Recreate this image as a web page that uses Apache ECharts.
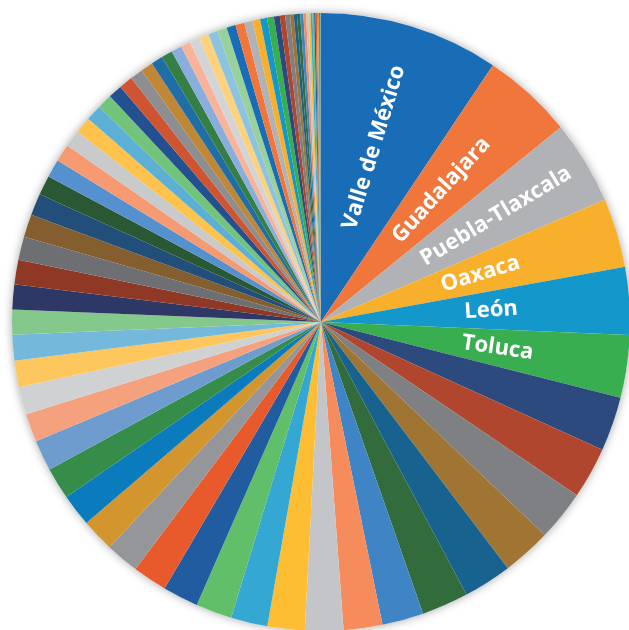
<!DOCTYPE html>
<html>
<head>
<meta charset="utf-8">
<script src="https://cdn.jsdelivr.net/npm/echarts@6/dist/echarts.min.js"></script>
<style>
html,body{margin:0;padding:0;background:#fff;}
#chart{width:629px;height:630px;}
</style>
</head>
<body>
<div id="chart"></div>
<script>
// Labeled regions (first six slices)
const cities = ['Valle de México', 'Guadalajara', 'Puebla-Tlaxcala', 'Oaxaca', 'León', 'Toluca'];

// Slice values (in the drawn order, clockwise from 12 o'clock)
const values = [
  33.8, 17.1, 15.8, 13.0, 12.7, 11.8,
  10.2, 9.7, 9.5, 9.2, 9.1, 8.8, 7.8, 7.3,
  7.2, 7.0, 6.9, 6.8, 6.7, 6.5, 6.3, 6.2, 6.1, 6.0,
  5.8, 5.3, 5.2, 5.0, 4.8, 4.7, 4.7, 4.6, 4.4, 4.3, 4.1,
  3.7, 3.4, 3.3, 3.2, 3.1, 3.0,
  2.8, 2.6, 2.6, 2.4, 2.3, 2.2, 2.1, 2.0, 1.8,
  1.9, 1.8, 1.8, 1.8, 1.7, 1.7, 1.6,
  1.4, 1.3, 1.3, 1.1, 1.0, 0.9, 0.7, 0.6, 0.6, 0.6, 0.5,
  0.45, 0.4, 0.35, 0.3, 0.28, 0.25, 0.2, 0.18, 0.15, 0.12, 0.1
];

// Slice colour cycle
const palette = [
  '#186db6', '#f1763b', '#b1b2b5', '#f8af2b', '#1497cb', '#38ae50',
  '#2d4a7e', '#b0462d', '#7f8083', '#a07533', '#17628f', '#326b3c', '#3f84c5', '#f68b5b',
  '#c4c5c8', '#fdbe34', '#35a7d3', '#61bf6a', '#215ba0', '#e8592c', '#95969a', '#d3952e',
  '#0a7bbd', '#368d49', '#6e9ccf', '#f5a17e', '#cfd1d3', '#fec75d', '#74b8db', '#84c98b',
  '#2e3866', '#8f3826', '#6e6f72', '#855e2f', '#224f79', '#2b5834', '#5590cf', '#f59a71',
  '#c9cacc', '#fdc34c', '#5cb0d6', '#72c47b', '#23508f', '#cf5431', '#8d8e91', '#c08736',
  '#1f6fa6', '#357e45', '#89addc', '#f8b398', '#d3d4d6', '#fed17c', '#8bc3e1', '#98d19b'
];

// Extra outward push of the inside labels (px, along the text direction)
const labelPush = [25, 21, 47, 9, 13, 21];

const CX = 321, CY = 322, R = 309;
const total = values.reduce((a, b) => a + b, 0);

const chart = echarts.init(document.getElementById('chart'));
chart.setOption({
  animation: false,
  backgroundColor: '#ffffff',
  series: [
    {
      type: 'pie',
      silent: true,
      center: [CX, CY],
      radius: [0, R],
      z: 1,
      label: { show: false },
      labelLine: { show: false },
      itemStyle: { color: '#ffffff', shadowBlur: 10, shadowColor: 'rgba(0,0,0,0.35)' },
      data: [{ value: total, name: 'bg' }]
    },
    {
      type: 'pie',
      center: [CX, CY],
      radius: [0, R],
      startAngle: 90,
      clockwise: true,
      z: 2,
      color: palette,
      avoidLabelOverlap: false,
      minShowLabelAngle: 0,
      label: {
        show: true,
        position: 'inside',
        rotate: 'radial',
        color: '#ffffff',
        fontFamily: '"Open Sans", "DejaVu Sans", sans-serif',
        fontWeight: 'bold',
        fontSize: 22,
        formatter: p => p.name
      },
      labelLine: { show: false },
      labelLayout: function (params) {
        return { dx: labelPush[params.dataIndex] || 0, dy: 0 };
      },
      data: values.map((v, i) => ({ value: v, name: cities[i] || '' }))
    }
  ]
});
</script>
</body>
</html>
